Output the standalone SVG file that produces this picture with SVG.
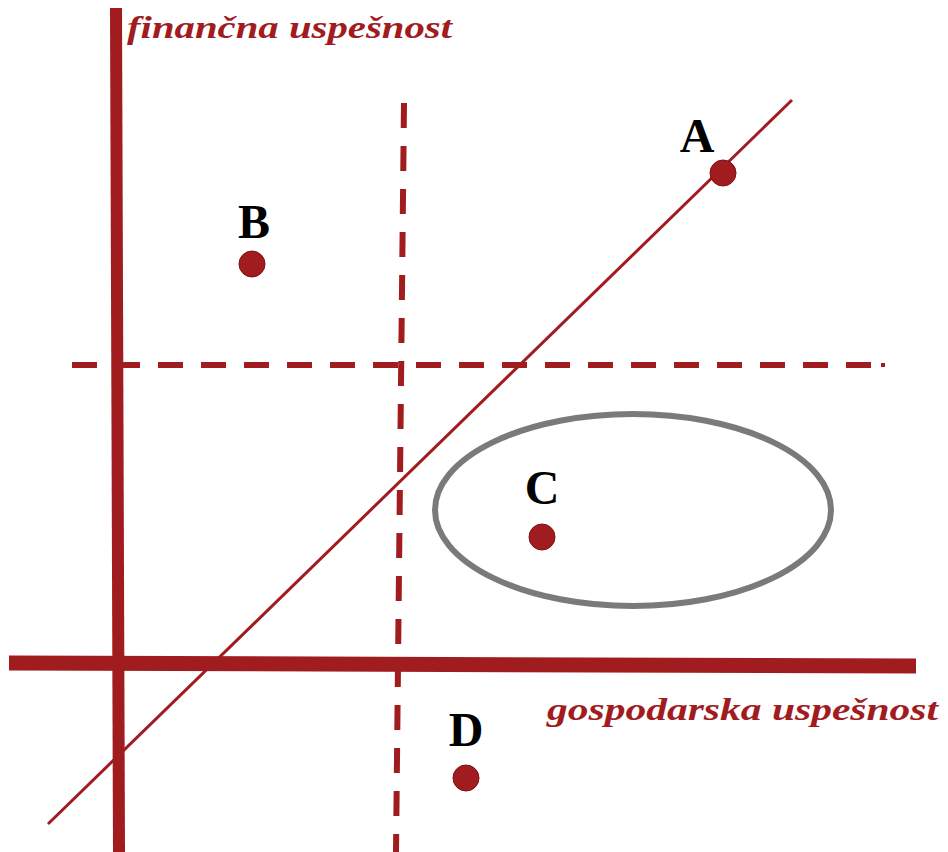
<svg xmlns="http://www.w3.org/2000/svg" width="948" height="852" viewBox="0 0 948 852">
<style>
.ax{stroke:#a11c1f;fill:none}
.dash{stroke:#a11c1f;stroke-width:6;stroke-dasharray:25 18;fill:none}
.pt{fill:#a11c1f;stroke:#7a1214;stroke-width:1}
.lbl{font-family:"Liberation Serif",serif;font-weight:bold;font-size:48px;fill:#000;text-anchor:middle}
.axl{font-family:"Liberation Serif",serif;font-weight:bold;font-style:italic;font-size:32px;fill:#a11c1f}
</style>
<rect width="948" height="852" fill="#fff"/>
<g id="connectors">
<line class="dash" x1="72" y1="365" x2="884" y2="365"/>
<line x1="881" y1="365" x2="885" y2="365" stroke="#a11c1f" stroke-width="4"/>
<line class="dash" x1="404" y1="103" x2="396" y2="852"/>
<line class="ax" x1="48" y1="824" x2="792" y2="100" stroke-width="3"/>
<line class="ax" x1="116" y1="8" x2="119" y2="852" stroke-width="12"/>
<line class="ax" x1="9" y1="663" x2="916" y2="666" stroke-width="15"/>
</g>
<g id="ellipse"><ellipse cx="633" cy="510" rx="198" ry="96" fill="none" stroke="#7a7a7a" stroke-width="6"/></g>
<g id="A"><circle class="pt" cx="723" cy="173" r="13"/><text class="lbl" x="697" y="152">A</text></g>
<g id="B"><circle class="pt" cx="252" cy="264" r="13"/><text class="lbl" x="254" y="238">B</text></g>
<g id="C"><circle class="pt" cx="542" cy="537" r="13"/><text class="lbl" x="542" y="504">C</text></g>
<g id="D"><circle class="pt" cx="466" cy="778" r="13"/><text class="lbl" x="466" y="746">D</text></g>
<g id="yaxis-label"><text class="axl" x="127" y="38" textLength="325" lengthAdjust="spacingAndGlyphs">finančna uspešnost</text></g>
<g id="xaxis-label"><text class="axl" x="547" y="720" textLength="391" lengthAdjust="spacingAndGlyphs">gospodarska uspešnost</text></g>
</svg>
